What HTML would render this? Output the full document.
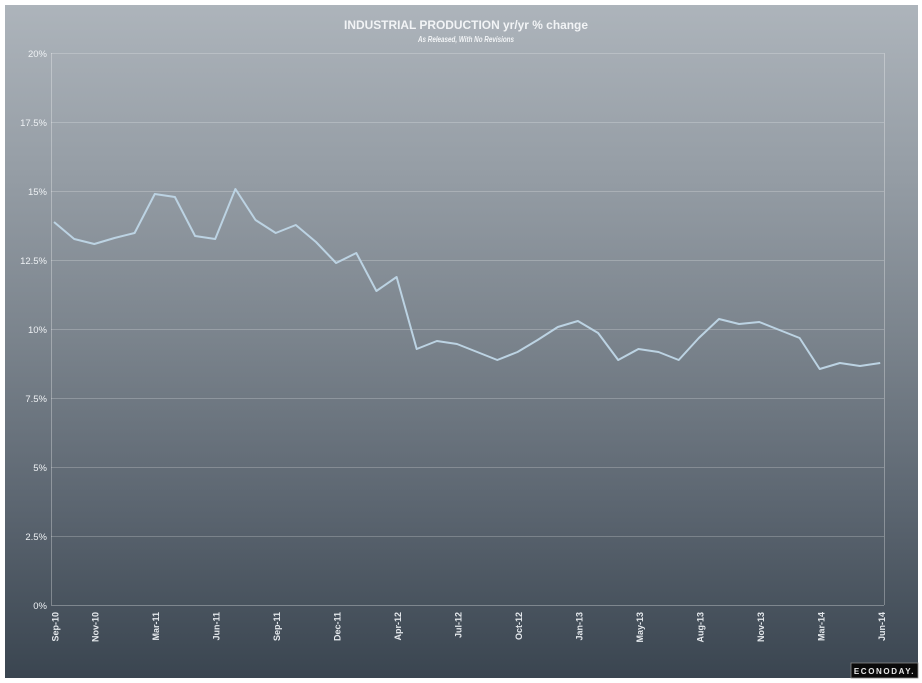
<!DOCTYPE html>
<html><head><meta charset="utf-8"><style>
html,body{margin:0;padding:0;background:#fff;}
svg{display:block;}
</style></head><body>
<svg width="922" height="683" viewBox="0 0 922 683" xmlns="http://www.w3.org/2000/svg">
<defs>
<linearGradient id="bg" x1="0" y1="0" x2="0" y2="1">
<stop offset="0" stop-color="#adb4bb"/>
<stop offset="0.25" stop-color="#959da5"/>
<stop offset="0.5" stop-color="#7a838c"/>
<stop offset="0.75" stop-color="#5b6570"/>
<stop offset="1" stop-color="#3a4550"/>
</linearGradient>
</defs>
<rect x="0" y="0" width="922" height="683" fill="#ffffff"/>
<rect x="5" y="5" width="913" height="673" fill="url(#bg)"/>
<g font-family="'Liberation Sans', sans-serif" fill="#f2f4f6" text-anchor="middle">
<text x="466" y="29" font-size="11.5" font-weight="bold" textLength="244" lengthAdjust="spacingAndGlyphs">INDUSTRIAL PRODUCTION yr/yr % change</text>
<text x="466" y="42" font-size="8" font-weight="bold" font-style="italic" textLength="96" lengthAdjust="spacingAndGlyphs">As Released, With No Revisions</text>
</g>
<g stroke="#ffffff" stroke-opacity="0.22" stroke-width="1">
<line x1="51" y1="53.5" x2="884" y2="53.5"/>
<line x1="51" y1="122.5" x2="884" y2="122.5"/>
<line x1="51" y1="191.5" x2="884" y2="191.5"/>
<line x1="51" y1="260.5" x2="884" y2="260.5"/>
<line x1="51" y1="329.5" x2="884" y2="329.5"/>
<line x1="51" y1="398.5" x2="884" y2="398.5"/>
<line x1="51" y1="467.5" x2="884" y2="467.5"/>
<line x1="51" y1="536.5" x2="884" y2="536.5"/>
</g>
<g stroke="#ffffff" stroke-opacity="0.3" stroke-width="1">
<line x1="51.5" y1="53" x2="51.5" y2="605"/>
<line x1="884.5" y1="53" x2="884.5" y2="605"/>
<line x1="51" y1="605.5" x2="884" y2="605.5"/>
</g>
<g font-family="'Liberation Sans', sans-serif" font-size="9.5" fill="#eef1f4" text-anchor="end">
<text x="47" y="57">20%</text>
<text x="47" y="126">17.5%</text>
<text x="47" y="195">15%</text>
<text x="47" y="264">12.5%</text>
<text x="47" y="333">10%</text>
<text x="47" y="402">7.5%</text>
<text x="47" y="471">5%</text>
<text x="47" y="540">2.5%</text>
<text x="47" y="609">0%</text>
</g>
<g font-family="'Liberation Sans', sans-serif" font-size="9" font-weight="bold" fill="#e4e8ec" text-anchor="end">
<text transform="translate(58.5,612) rotate(-90)">Sep-10</text>
<text transform="translate(98.5,612) rotate(-90)">Nov-10</text>
<text transform="translate(159,612) rotate(-90)">Mar-11</text>
<text transform="translate(219.5,612) rotate(-90)">Jun-11</text>
<text transform="translate(280,612) rotate(-90)">Sep-11</text>
<text transform="translate(340.5,612) rotate(-90)">Dec-11</text>
<text transform="translate(401,612) rotate(-90)">Apr-12</text>
<text transform="translate(461.5,612) rotate(-90)">Jul-12</text>
<text transform="translate(522,612) rotate(-90)">Oct-12</text>
<text transform="translate(582.5,612) rotate(-90)">Jan-13</text>
<text transform="translate(643,612) rotate(-90)">May-13</text>
<text transform="translate(703.5,612) rotate(-90)">Aug-13</text>
<text transform="translate(764,612) rotate(-90)">Nov-13</text>
<text transform="translate(824.5,612) rotate(-90)">Mar-14</text>
<text transform="translate(885,612) rotate(-90)">Jun-14</text>
</g>
<polyline fill="none" stroke="#bcd3e3" stroke-width="2" stroke-linejoin="round"
points="54,222 74.2,239 94.3,244 114.5,238 134.6,233 154.8,194 174.9,197 195.1,236 215.2,239 235.4,189 255.5,220 275.7,233 295.8,225 316,242 336.1,263 356.3,253 376.4,291 396.6,277 416.7,349 436.9,341 457,344 477.2,352 497.3,360 517.5,352 537.6,340 557.8,327 577.9,321 598.1,333 618.2,360 638.4,349 658.5,352 678.7,360 698.8,338 719,319 739.1,324 759.3,322 779.4,330 799.6,338 819.7,369 839.9,363 860,366 880.2,363"/>
<rect x="851" y="663" width="67" height="15" fill="#0a0a0a" stroke="#888" stroke-width="0.8"/>
<text x="884.5" y="674" font-family="'Liberation Sans', sans-serif" font-size="8" font-weight="bold" fill="#e8e8e8" text-anchor="middle" letter-spacing="1.6">ECONODAY.</text>
</svg>
</body></html>
